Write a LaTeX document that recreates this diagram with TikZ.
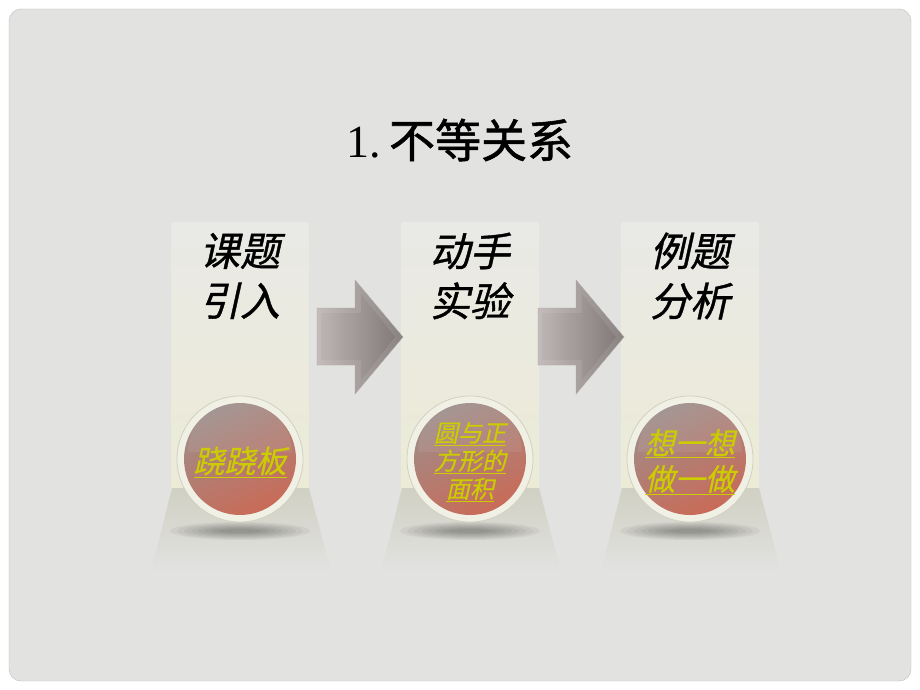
\documentclass[tikz,border=0pt]{standalone}
\usepackage{fontspec}
\setmainfont{Liberation Serif}
\newfontfamily\cjk{Noto Sans CJK SC}[FakeBold=1.2]
\newfontfamily\cjkit{Noto Sans CJK SC}[FakeSlant=0.22,FakeBold=1]
\newfontfamily\cjklink{Noto Sans CJK SC}[FakeSlant=0.22,FakeBold=0.4]

\definecolor{slidebg}{HTML}{E2E2E1}
\definecolor{slideedge}{HTML}{BDBDBD}
\definecolor{paneltop}{HTML}{E9E9E6}
\definecolor{panelcream}{HTML}{ECEBD6}
\definecolor{basetop}{HTML}{D0D0C3}
\definecolor{basegray}{HTML}{AEAEAB}
\definecolor{ringwhite}{HTML}{F0F0E4}
\definecolor{ballgray}{HTML}{9E8E8B}
\definecolor{ballred}{HTML}{C96B58}
\definecolor{linkyellow}{HTML}{CCCC00}
\definecolor{arrowlight}{HTML}{C4BCBA}
\definecolor{arrowdark}{HTML}{8A8281}

\tikzset{
  panel/.style={minimum width=137pt,minimum height=266pt,inner sep=0pt,
    top color=paneltop,bottom color=panelcream},
  ring/.style={circle,minimum size=126pt,inner sep=0pt,fill=ringwhite,
    draw=basetop,line width=0.8pt},
  ball/.style={circle,minimum size=112pt,inner sep=0pt,
    top color=ballgray,bottom color=ballred,shading angle=25},
  heading/.style={align=center,font=\cjkit\fontsize{40}{50}\selectfont},
  link/.style={align=center,text=linkyellow},
  arrowbody/.style={left color=arrowlight,right color=arrowdark,draw=arrowdark!70}
}

\begin{document}
\begin{tikzpicture}[x=1pt,y=-1pt]
\useasboundingbox (0,0) rectangle (920,690);
\fill[white] (0,0) rectangle (920,690);
\draw[rounded corners=12pt,fill=slidebg,draw=slideedge] (9,9) rectangle (911,681);

% title
\node (title) at (460,140) {\fontsize{46}{50}\selectfont 1.\,{\cjk 不等关系}};

% panels with bases, balls and links
\foreach \cx/\head/\ltext/\lfont [count=\i] in {
  240/{课题\\引入}/{\underline{跷跷板}}/{\fontsize{31}{34}},
  470/{动手\\实验}/{\underline{圆与正}\\\underline{方形的}\\\underline{面积}}/{\fontsize{24}{28}},
  690/{例题\\分析}/{\underline{想一想}\\\underline{做一做}}/{\fontsize{30}{36}}}{
  \node[panel] (p\i) at (\cx,355) {};
  \shade[top color=basetop,middle color=basegray,bottom color=slidebg]
    (\cx-68,488) -- (\cx+69,488) -- (\cx+91,572) -- (\cx-89,572) -- cycle;
  \foreach \k in {0,...,7}
    \fill[black,opacity=0.045] (\cx,531) ellipse [x radius={70-7*\k},y radius={9-\k}];
  \node[heading] (h\i) at (\cx,276) {\head};
  \node[ring] (r\i) at (\cx,459) {};
  \node[ball] (b\i) at (r\i.center) {};
  \fill[white,opacity=0.07] (\cx-52,452) arc[start angle=180,end angle=0,radius=52pt] -- cycle;
  \node[link,font=\cjklink\lfont\selectfont] (l\i) at ([yshift=-3pt]r\i.center) {\ltext};
}

% block arrows between the panels
\foreach \ax in {317,538}{
  \shade[arrowbody] (\ax,308) -- (\ax+38,308) -- (\ax+38,280) -- (\ax+86,337)
    -- (\ax+38,394) -- (\ax+38,365) -- (\ax,365) -- cycle;
  \shade[left color=arrowlight!80!arrowdark,right color=arrowdark!90!black,opacity=0.6]
    (\ax+4,313) -- (\ax+44,313) -- (\ax+44,294) -- (\ax+78,337)
    -- (\ax+44,380) -- (\ax+44,360) -- (\ax+4,360) -- cycle;
}
\end{tikzpicture}
\end{document}
